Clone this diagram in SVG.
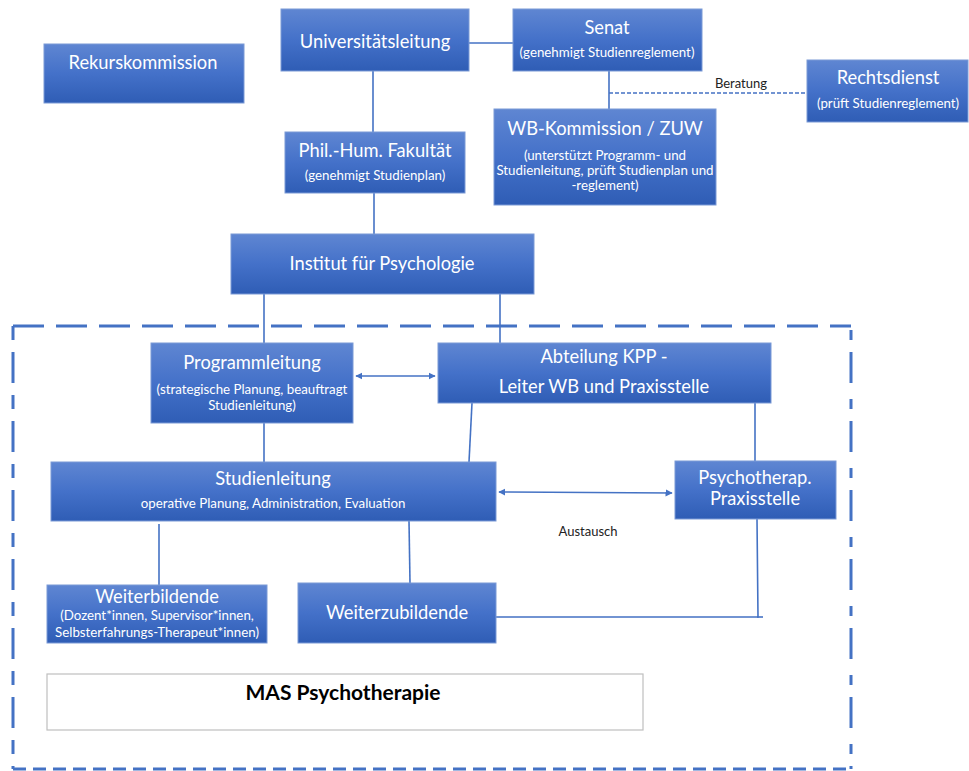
<svg xmlns="http://www.w3.org/2000/svg" width="969" height="771" viewBox="0 0 969 771">
<defs>
<linearGradient id="g" x1="0" y1="0" x2="0" y2="1">
<stop offset="0" stop-color="#5f86d2"/>
<stop offset="0.5" stop-color="#4471c9"/>
<stop offset="1" stop-color="#2f5db5"/>
</linearGradient>
<marker id="ah" viewBox="0 0 10 10" refX="9" refY="5" markerWidth="4.5" markerHeight="4.5" orient="auto-start-reverse" markerUnits="strokeWidth">
<path d="M0,0 L10,5 L0,10 z" fill="#4472c4"/>
</marker>
</defs>
<style>
.box{fill:url(#g);stroke:#7b9ad6;stroke-width:1}
.t{font-family:"Lato","Liberation Sans",sans-serif;fill:#ffffff;text-anchor:middle;font-size:18.3px}
.s{font-family:"Lato","Liberation Sans",sans-serif;fill:#ffffff;text-anchor:middle;font-size:13.3px}
.c{stroke:#4472c4;stroke-width:1.6;fill:none}
.d{stroke:#4472c4;stroke-width:1.6;fill:none;stroke-dasharray:4 2}
.lbl{font-family:"Lato","Liberation Sans",sans-serif;fill:#222;text-anchor:middle;font-size:13px}
.frame{stroke:#4472c4;stroke-width:3;fill:none}
</style>
<g id="connectors">
<line class="c" x1="469" y1="43" x2="513" y2="43"/>
<line class="c" x1="373" y1="71" x2="373" y2="132"/>
<line class="c" x1="374" y1="193" x2="374" y2="234"/>
<line class="c" x1="609" y1="71" x2="609" y2="109"/>
<line class="d" x1="609" y1="93" x2="807" y2="93"/>
<line class="c" x1="264" y1="294" x2="264" y2="343"/>
<line class="c" x1="500" y1="294" x2="500" y2="343"/>
<line class="c" x1="356" y1="376" x2="435" y2="376" marker-start="url(#ah)" marker-end="url(#ah)"/>
<line class="c" x1="264" y1="423" x2="264" y2="462"/>
<line class="c" x1="472" y1="403" x2="469" y2="462"/>
<line class="c" x1="755" y1="403" x2="755" y2="461"/>
<line class="c" x1="499" y1="492" x2="672" y2="493" marker-start="url(#ah)" marker-end="url(#ah)"/>
<line class="c" x1="159" y1="524" x2="159" y2="585"/>
<line class="c" x1="409" y1="521" x2="410" y2="583"/>
<polyline class="c" points="757,519 758,617 496,617"/>
<line class="c" x1="757" y1="617" x2="763" y2="617"/>
</g>
<g id="frame">
<line class="frame" x1="13" y1="326" x2="851" y2="326" stroke-dasharray="31 12"/>
<line class="frame" x1="13" y1="326" x2="13" y2="769" stroke-dasharray="14 12 31 12"/>
<line class="frame" x1="851" y1="326" x2="851" y2="769" stroke-dasharray="0 4 10 12 31 12"/>
<line class="frame" x1="13" y1="769" x2="851" y2="769" stroke-dasharray="13 7" stroke-width="2"/>
</g>
<g id="rekurs"><rect class="box" x="44" y="44" width="200" height="59"/><text class="t" x="143" y="69">Rekurskommission</text></g>
<g id="uni"><rect class="box" x="281" y="9" width="188" height="62"/><text class="t" x="375" y="48">Universitätsleitung</text></g>
<g id="senat"><rect class="box" x="513" y="9" width="189" height="62"/><text class="t" x="607" y="34">Senat</text><text class="s" x="607" y="57">(genehmigt Studienreglement)</text></g>
<g id="recht"><rect class="box" x="807" y="60" width="161" height="62"/><text class="t" x="888" y="84">Rechtsdienst</text><text class="s" x="888" y="108">(prüft Studienreglement)</text></g>
<text class="lbl" x="741" y="88">Beratung</text>
<g id="phil"><rect class="box" x="285" y="132" width="180" height="61"/><text class="t" x="375" y="157">Phil.-Hum. Fakultät</text><text class="s" x="375" y="180">(genehmigt Studienplan)</text></g>
<g id="wb"><rect class="box" x="494" y="109" width="222" height="96"/><text class="t" x="605" y="135">WB-Kommission / ZUW</text><text class="s" x="605" y="160">(unterstützt Programm- und</text><text class="s" x="605" y="175">Studienleitung, prüft Studienplan und</text><text class="s" x="605" y="190">-reglement)</text></g>
<g id="institut"><rect class="box" x="231" y="234" width="303" height="60"/><text class="t" x="382" y="270">Institut für Psychologie</text></g>
<g id="programm"><rect class="box" x="151" y="343" width="202" height="80"/><text class="t" x="252" y="369">Programmleitung</text><text class="s" x="252" y="394">(strategische Planung, beauftragt</text><text class="s" x="252" y="410">Studienleitung)</text></g>
<g id="kpp"><rect class="box" x="438" y="343" width="333" height="60"/><text class="t" x="604" y="363">Abteilung KPP -</text><text class="t" x="604" y="393">Leiter WB und Praxisstelle</text></g>
<g id="studien"><rect class="box" x="51" y="462" width="445" height="59"/><text class="t" x="273" y="485">Studienleitung</text><text class="s" x="273" y="508">operative Planung, Administration, Evaluation</text></g>
<g id="praxis"><rect class="box" x="675" y="461" width="161" height="58"/><text class="t" x="755" y="484">Psychotherap.</text><text class="t" x="755" y="505">Praxisstelle</text></g>
<text class="lbl" x="588" y="536">Austausch</text>
<g id="weiterbildende"><rect class="box" x="47" y="585" width="220" height="58"/><text class="t" x="157" y="603">Weiterbildende</text><text class="s" x="157" y="620">(Dozent*innen, Supervisor*innen,</text><text class="s" x="157" y="637">Selbsterfahrungs-Therapeut*innen)</text></g>
<g id="weiterzu"><rect class="box" x="298" y="583" width="198" height="60"/><text class="t" x="397" y="619">Weiterzubildende</text></g>
<g id="mas"><rect x="47" y="674" width="596" height="56" fill="#ffffff" stroke="#bfbfbf" stroke-width="1.2"/><text x="343" y="700" font-family="Lato,'Liberation Sans',sans-serif" font-weight="bold" font-size="21" text-anchor="middle" fill="#000">MAS Psychotherapie</text></g>
</svg>
